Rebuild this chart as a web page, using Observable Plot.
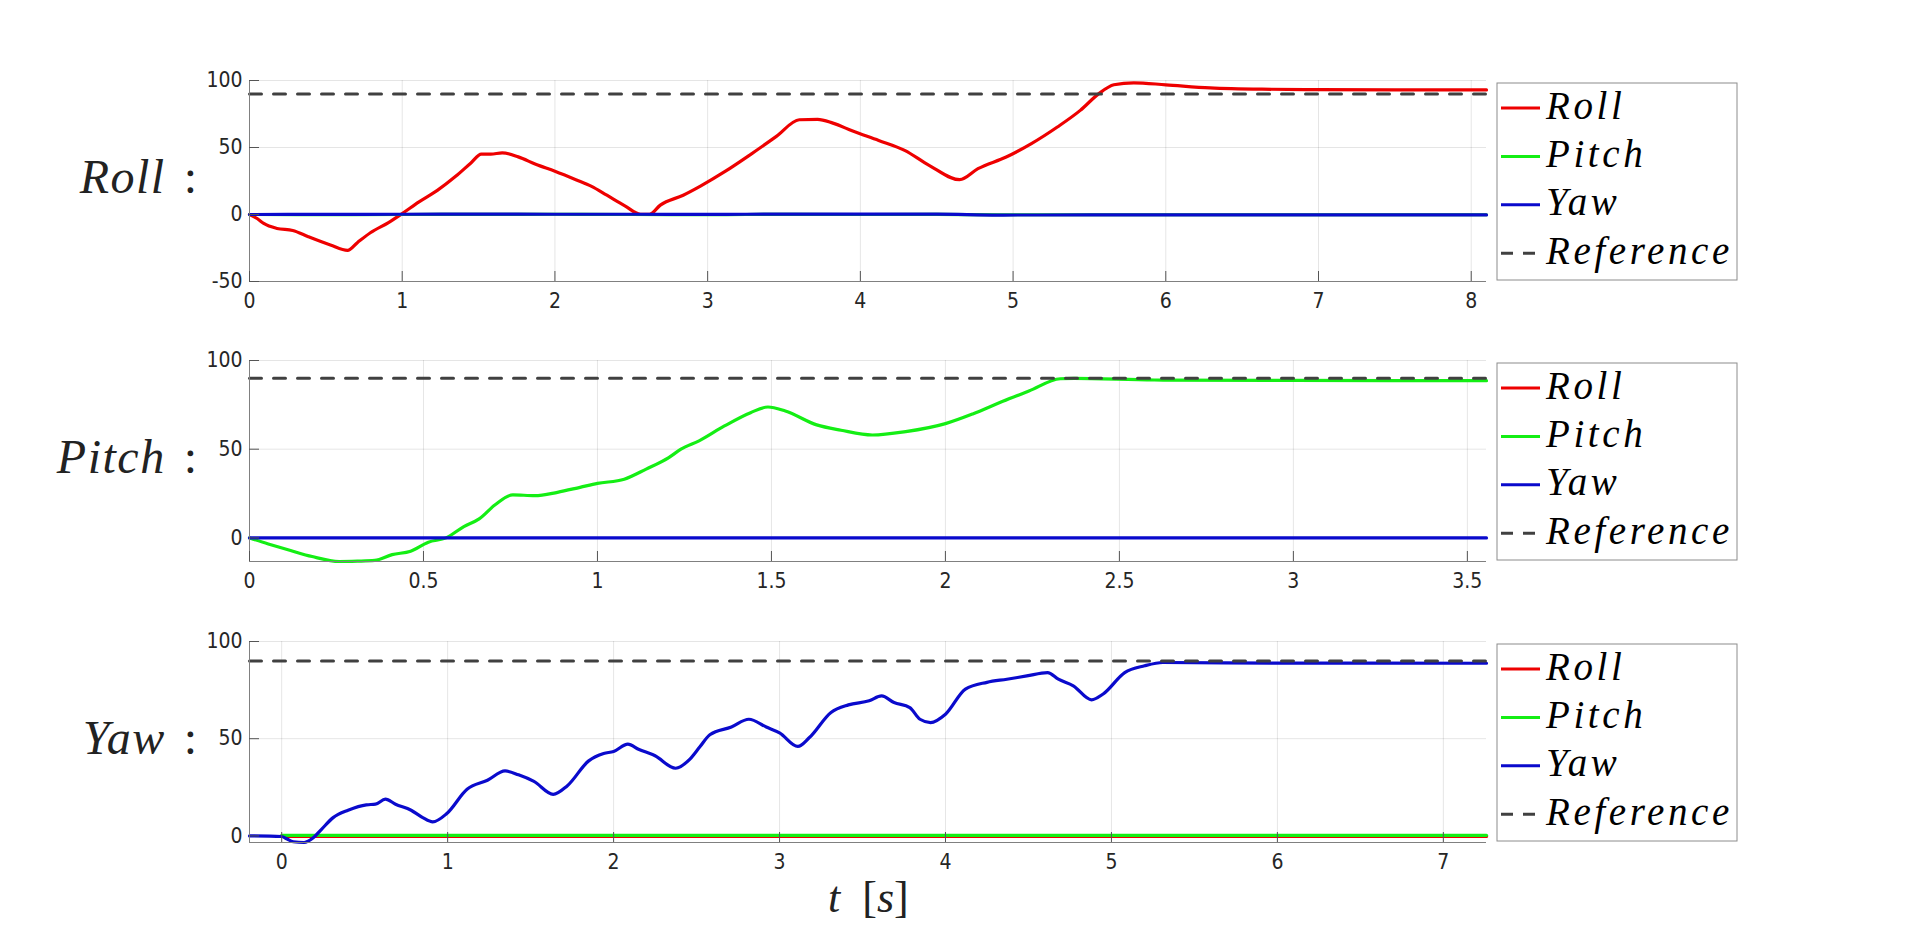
<!DOCTYPE html>
<html><head><meta charset="utf-8">
<script src="https://cdn.jsdelivr.net/npm/d3@7"></script>
<script src="https://cdn.jsdelivr.net/npm/@observablehq/plot@0.6"></script>
<style>
body{margin:0;background:#fff;}
#root{position:relative;width:1920px;height:945px;overflow:hidden;background:#fff;}
.panel{position:absolute;left:0;}
.ylab{position:absolute;font-family:'Liberation Serif',serif;font-style:italic;font-size:48px;line-height:48px;color:#222;white-space:nowrap;}
.xlab{position:absolute;font-family:'Liberation Serif',serif;font-size:44px;line-height:44px;color:#222;white-space:nowrap;}
</style></head><body><div id="root"></div><script>
// ---------------- data ----------------
const seriesNames = ["Roll", "Pitch", "Yaw", "Reference"];
const seriesColors = ["#ee0000", "#14ee14", "#0a0acc", "#404040"];
const referenceValue = [90, 90];

// Panel 1: Roll command
const rollX = [0, 8.1];
const rollYDom = [-50, 100];
const rollXTicks = [0, 1, 2, 3, 4, 5, 6, 7, 8];
const rollYTicks = [-50, 0, 50, 100];
const p1RollT = [0, 0.05, 0.093, 0.18, 0.283, 0.385, 0.53, 0.642, 0.706, 0.794, 0.91, 1.0, 1.11, 1.23, 1.35, 1.45, 1.518, 1.58, 1.655, 1.76, 1.874, 2.0, 2.137, 2.24, 2.34, 2.458, 2.56, 2.62, 2.69, 2.84, 2.95, 3.117, 3.28, 3.45, 3.6, 3.72, 3.82, 3.95, 4.12, 4.29, 4.45, 4.65, 4.77, 4.955, 5.12, 5.29, 5.44, 5.56, 5.66, 5.79, 6.0, 6.29, 6.63, 7.0, 7.5, 8.1];
const p1RollV = [0, -3, -6.7, -10.4, -11.9, -16.6, -22.8, -26.8, -21, -13.4, -6, 0.7, 9.4, 18, 28.5, 38.5, 45, 45, 46, 43, 37.5, 32.3, 26, 21, 14.4, 6.5, 0.2, 0.2, 7, 14.4, 21, 32.3, 44.7, 58.3, 70.7, 71, 68.2, 62.3, 55.3, 47.9, 36.7, 26, 34.2, 42.9, 52.9, 65.3, 77.7, 90, 96.8, 98.3, 96.8, 94.5, 93.5, 93.2, 93, 93];
const p1OtherT = [0, 0.5, 1, 1.5, 2, 2.5, 3, 3.5, 4, 4.5, 4.9, 5.5, 6, 7, 8.1];
const p1PitchV = [0, -0.2, 0, 0.1, 0.2, 0, -0.1, 0.1, 0, 0.1, -0.2, -0.2, -0.2, -0.2, -0.2];
const p1YawV = [0, 0.1, 0.2, 0.3, 0.2, 0.2, 0.1, 0.3, 0.3, 0.3, -0.4, -0.3, -0.3, -0.3, -0.3];

// Panel 2: Pitch command (Roll trace lies entirely under the Yaw trace at 0)
const pitchX = [0, 3.555];
const pitchYDom = [-13.3, 100];
const pitchXTicks = [0, 0.5, 1, 1.5, 2, 2.5, 3, 3.5];
const pitchYTicks = [0, 50, 100];
const p2PitchT = [0, 0.054, 0.118, 0.18, 0.258, 0.31, 0.36, 0.41, 0.463, 0.514, 0.565, 0.616, 0.66, 0.706, 0.757, 0.82, 0.885, 0.95, 1.0, 1.077, 1.14, 1.205, 1.24, 1.292, 1.365, 1.44, 1.49, 1.54, 1.63, 1.7, 1.79, 1.886, 2.0, 2.08, 2.165, 2.24, 2.33, 2.37, 2.6, 3.0, 3.555];
const p2PitchV = [0, -3.4, -7.1, -10.5, -13.3, -13.1, -12.7, -9.4, -7.5, -2.4, 0, 6.4, 10.7, 18.7, 24.3, 23.8, 25.7, 28.5, 30.7, 33.1, 38.8, 45.3, 50, 54.7, 63.1, 70.6, 73.8, 71.5, 63.7, 60.7, 58, 59.9, 64.4, 70, 77, 82.8, 89.7, 89.9, 89, 88.8, 88.6];
const p2OtherT = [0, 1, 2, 3, 3.555];
const p2YawV = [0, 0, 0, 0, 0];

// Panel 3: Yaw command
const yawX = [-0.194, 7.26];
const yawYDom = [-3.4, 100];
const yawXTicks = [0, 1, 2, 3, 4, 5, 6, 7];
const yawYTicks = [0, 50, 100];
const p3YawT = [-0.194, 0, 0.03, 0.07, 0.135, 0.19, 0.24, 0.31, 0.40, 0.51, 0.565, 0.625, 0.686, 0.78, 0.85, 0.91, 0.995, 1.117, 1.24, 1.346, 1.427, 1.52, 1.636, 1.72, 1.85, 1.94, 2.0, 2.086, 2.15, 2.25, 2.374, 2.46, 2.52, 2.58, 2.71, 2.815, 2.92, 3.0, 3.11, 3.18, 3.31, 3.415, 3.54, 3.615, 3.69, 3.785, 3.846, 3.91, 4.0, 4.12, 4.25, 4.37, 4.49, 4.615, 4.68, 4.77, 4.88, 4.95, 5.08, 5.2, 5.31, 6.0, 7.26];
const p3YawV = [0, -0.3, -1.5, -3, -3.4, -1, 3.4, 9.4, 13.2, 16, 16.3, 18.9, 16.3, 13.2, 9.4, 7.2, 11.5, 24, 28.6, 33.4, 31.4, 28, 21.4, 25.7, 38.6, 42.4, 43.4, 47.2, 44.6, 41.2, 34.8, 39.5, 45.8, 52, 56, 60, 56, 53, 46, 50.6, 63.5, 67.4, 69.5, 72, 68.6, 66, 60, 58.3, 62.6, 75.5, 79, 80.6, 82.3, 84, 80.6, 77.2, 70, 73, 84, 87.5, 89.2, 88.9, 88.8];
const p3OtherT = [0, 1, 2, 3, 4, 5, 6, 7.26];
const p3RollV = [-0.3, -0.3, -0.3, -0.3, -0.3, -0.3, -0.3, -0.3];
const p3PitchV = [0.3, 0.3, 0.3, 0.3, 0.3, 0.3, 0.3, 0.3];

const yLabels = ["Roll", "Pitch", "Yaw"];
const xLabelVar = "t";
const xLabelUnit = "s";

// ---------------- layout ----------------
const PL = 249, PR = 1486, PH = 201, MT = 10, MB = 48, SVGW = 1500;
const tops = [80, 360, 641];
const root = document.getElementById("root");

function zip(t, v) { return t.map((x, i) => ({t: x, v: v[i]})); }

function panel(idx, cfg) {
  const top = tops[idx];
  const [x0, x1] = cfg.xDom, [y0, y1] = cfg.yDom;
  const tyLen = 10 / PH * (y1 - y0);
  const txLen = 10 / (PR - PL) * (x1 - x0);
  const lineOpts = {x: "t", y: "v", strokeWidth: 3.2, curve: "monotone-x"};
  const marks = [
    Plot.gridX(cfg.xTicks, {stroke: "#000", strokeOpacity: 0.1}),
    Plot.gridY(cfg.yTicks, {stroke: "#000", strokeOpacity: 0.1}),
    ...cfg.lines.map(l => Plot.line(zip(l.t, l.v), {...lineOpts, stroke: seriesColors[l.s]})),
    Plot.line(zip(cfg.xDom, referenceValue), {x: "t", y: "v", strokeWidth: 3, stroke: seriesColors[3], strokeDasharray: "12,12"}),
    Plot.ruleX([x0], {stroke: "#808080"}),
    Plot.ruleY([y0], {stroke: "#808080"}),
    Plot.ruleX(cfg.xTicks, {x: d => d, y1: y0, y2: y0 + tyLen, stroke: "#555"}),
    Plot.ruleY(cfg.yTicks, {y: d => d, x1: x0, x2: x0 + txLen, stroke: "#555"}),
    Plot.axisX(cfg.xTicks, {tickSize: 0, tickPadding: 12, tickFormat: d => String(d), label: null}),
    Plot.axisY(cfg.yTicks, {tickSize: 0, tickPadding: 7, tickFormat: d => String(d), label: null})
  ];
  const svg = Plot.plot({
    width: SVGW, height: MT + PH + MB,
    marginLeft: PL, marginRight: SVGW - PR, marginTop: MT, marginBottom: MB,
    x: {domain: cfg.xDom}, y: {domain: cfg.yDom},
    style: {fontFamily: "'DejaVu Sans Condensed','DejaVu Sans',sans-serif", fontStretch: "condensed", fontSize: "21px", color: "#262626", background: "transparent", overflow: "visible"},
    marks
  });
  const div = document.createElement("div");
  div.className = "panel";
  div.style.top = (top - MT) + "px";
  div.appendChild(svg);
  root.appendChild(div);

  // y label (LaTeX-like)
  const yl = document.createElement("div");
  yl.className = "ylab";
  yl.style.right = (1920 - 197) + "px";
  yl.style.top = (top + PH / 2 + 12 - 40) + "px";
  yl.innerHTML = `<span style="letter-spacing:1.5px">${yLabels[idx]}</span><span style="margin-left:18px;font-style:normal">:</span>`;
  root.appendChild(yl);

  // legend
  const lg = d3.create("svg").attr("width", 242).attr("height", 200)
    .style("position", "absolute").style("left", "1496px").style("top", (top + 1.5) + "px");
  lg.append("rect").attr("x", 1).attr("y", 1).attr("width", 240).attr("height", 197)
    .attr("fill", "#fff").attr("stroke", "#8c8c8c").attr("stroke-width", 1);
  seriesNames.forEach((n, i) => {
    const ry = 26 + i * 48.4;
    lg.append("line").attr("x1", 5).attr("x2", 44).attr("y1", ry).attr("y2", ry)
      .attr("stroke", seriesColors[i]).attr("stroke-width", 3)
      .attr("stroke-dasharray", i === 3 ? "12,10" : null);
    lg.append("text").attr("x", 50).attr("y", ry + 10.5).text(n)
      .attr("font-family", "'Liberation Serif',serif").attr("font-style", "italic")
      .attr("font-size", 39).attr("letter-spacing", 3.6).attr("fill", "#000");
  });
  root.appendChild(lg.node());
}

panel(0, {xDom: rollX, yDom: rollYDom, xTicks: rollXTicks, yTicks: rollYTicks,
  lines: [{s: 0, t: p1RollT, v: p1RollV}, {s: 1, t: p1OtherT, v: p1PitchV}, {s: 2, t: p1OtherT, v: p1YawV}]});
panel(1, {xDom: pitchX, yDom: pitchYDom, xTicks: pitchXTicks, yTicks: pitchYTicks,
  lines: [{s: 1, t: p2PitchT, v: p2PitchV}, {s: 2, t: p2OtherT, v: p2YawV}]});
panel(2, {xDom: yawX, yDom: yawYDom, xTicks: yawXTicks, yTicks: yawYTicks,
  lines: [{s: 0, t: p3OtherT, v: p3RollV}, {s: 1, t: p3OtherT, v: p3PitchV}, {s: 2, t: p3YawT, v: p3YawV}]});

// x label
const xl = document.createElement("div");
xl.className = "xlab";
xl.style.left = "828px";
xl.style.top = (913 - 37) + "px";
xl.innerHTML = `<i>${xLabelVar}</i><span style="margin-left:22px">[</span><i>${xLabelUnit}</i>]`;
root.appendChild(xl);
</script></body></html>
